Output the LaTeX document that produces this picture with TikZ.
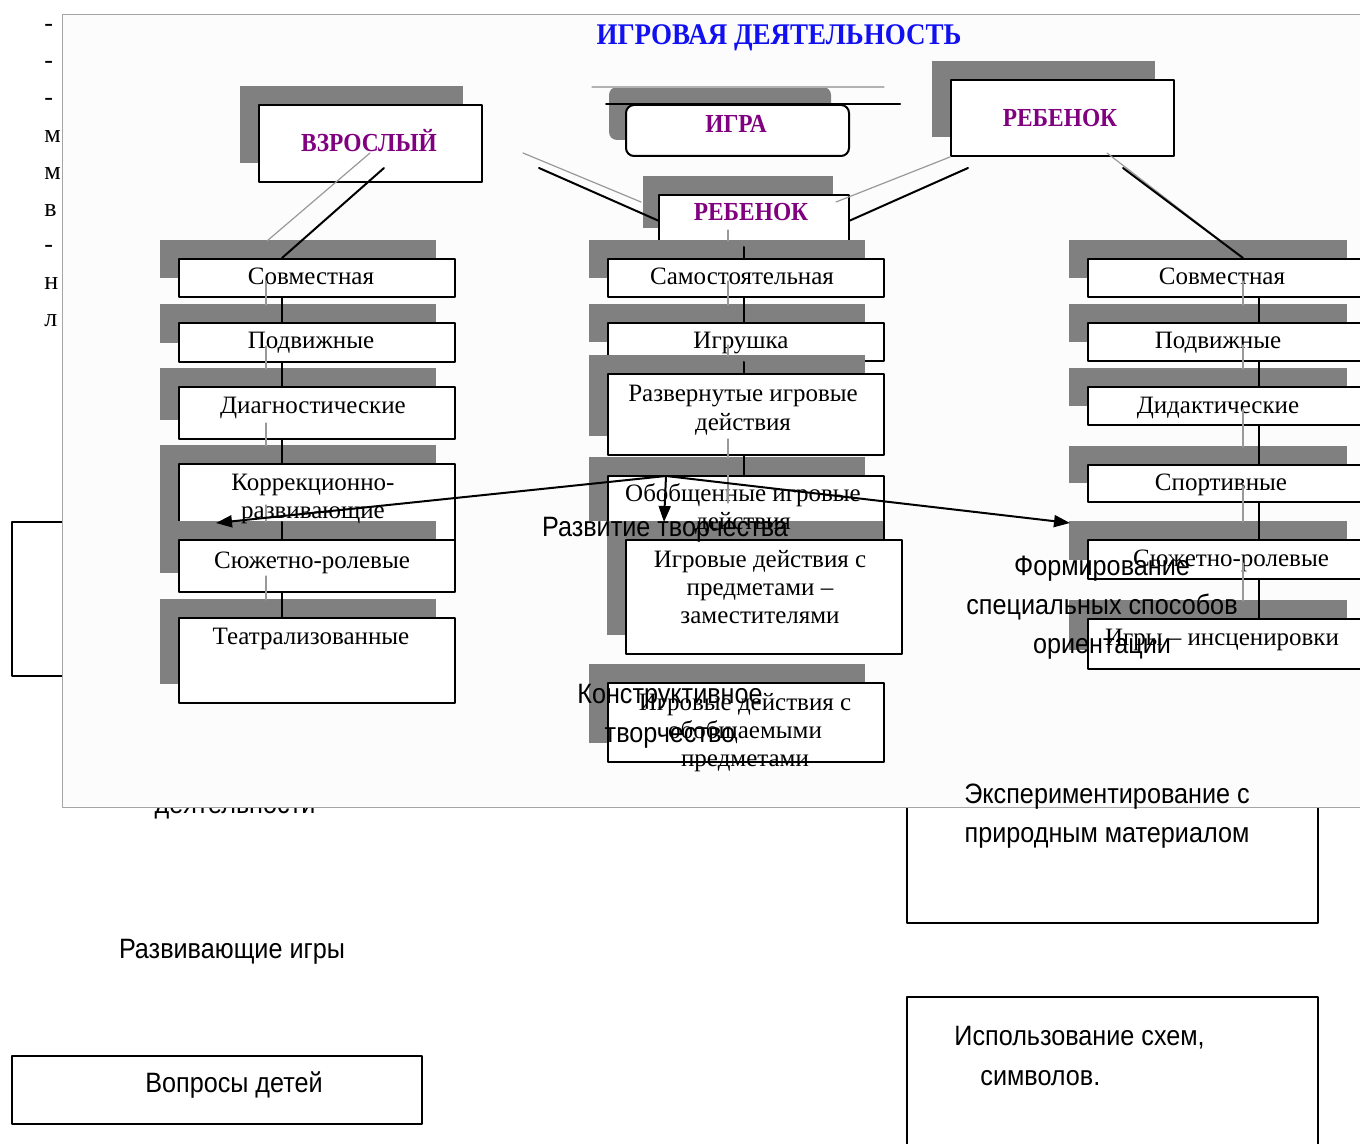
\documentclass[tikz,border=0pt]{standalone}
\usepackage{fontspec}
\setmainfont{Liberation Serif}
\newfontfamily\notefont[FakeStretch=0.9]{Liberation Sans}
\newfontfamily\headfont[FakeStretch=0.9]{Liberation Serif}
\usetikzlibrary{arrows.meta,calc,positioning}

\definecolor{shadegray}{RGB}{128,128,128}
\definecolor{headblue}{RGB}{16,16,240}
\definecolor{rolepurple}{RGB}{128,0,128}
\definecolor{panelgray}{RGB}{165,165,165}

% shaded box: name, left, top, width, height
\newcommand{\gbox}[5]{%
  \fill[shadegray] (#2-18,#3-18) rectangle ++(#4,#5);
  \node[gamebox,minimum width=#4*0.5pt,minimum height=#5*0.5pt,anchor=north west] (#1) at (#2,#3) {};
}
% black link and its grey shadow
\newcommand{\glink}[3]{%
  \draw[linkshade] ($(#1.south -| #3)+(-16,-17)$) -- ($(#2.north -| #3)+(-16,-17)$);
  \draw[linkline] (#1.south -| #3) -- (#2.north -| #3);
}

\begin{document}
\begin{tikzpicture}[x=0.5pt,y=-0.5pt,line cap=round,line join=round,
  gamebox/.style={draw=black,line width=1pt,fill=white,inner sep=0pt},
  lbl/.style={font=\fontsize{12.5}{14}\selectfont,inner sep=0pt,align=center,anchor=base},
  rolelbl/.style={font=\headfont\bfseries\fontsize{13}{15}\selectfont,text=rolepurple,inner sep=0pt,anchor=base},
  pagetext/.style={font=\fontsize{13}{15}\selectfont,inner sep=0pt},
  note/.style={font=\notefont\fontsize{14}{19.5}\selectfont,inner sep=0pt,align=center,anchor=base},
  framebox/.style={draw=black,line width=1pt},
  linkline/.style={line width=1pt},
  linkshade/.style={draw=shadegray!80,line width=0.6pt},
  pointer/.style={line width=1pt,-{Triangle[length=8pt,width=6pt]}}]
  \clip (0,0) rectangle (1360,1144);
  \fill[white] (0,0) rectangle (1360,1144);

  % page under the picture
  \foreach \yy/\ch [count=\i] in {32/-,69/-,106/-,143/м,180/м,217/в,253/-,290/н,327/л}
    \node[pagetext,anchor=base west] (page\i) at (44,\yy) {\ch};
  \draw[framebox] (12,522) rectangle (200,676);
  \node[note] (deyat) at (235,813) {деятельности};
  \draw[framebox] (907,780) rectangle (1318,923);

  % picture panel
  \draw[draw=panelgray,fill=white!99!black] (62,14) rectangle (1380,807);
  \node[font=\headfont\bfseries\fontsize{15}{17}\selectfont,text=headblue,inner sep=0pt,anchor=base]
    (title) at (779,45) {ИГРОВАЯ ДЕЯТЕЛЬНОСТЬ};

  % top row
  \gbox{adult}{258}{104}{223}{77}
  \node[rolelbl] (adult-t) at (369,152) {ВЗРОСЛЫЙ};
  \gbox{childtop}{950}{79}{223}{76}
  \node[rolelbl] (childtop-t) at (1060,127) {РЕБЕНОК};
  \fill[shadegray,rounded corners=4pt] (609,87) rectangle (831,140);
  \node[gamebox,rounded corners=4pt,minimum width=111.5pt,minimum height=25.5pt,anchor=north west] (game) at (625,104) {};
  \node[rolelbl] (game-t) at (736,133) {ИГРА};
  \draw[shadegray!60,line width=0.6pt] (592,87) -- (884,87);
  \draw[line width=1pt] (606,104) -- (900,104);
  \fill[shadegray] (643,176) rectangle (833,228);
  \node[gamebox,minimum width=95pt,minimum height=25.5pt,anchor=north west] (child) at (658,194) {};
  \node[rolelbl] (child-t) at (751,221) {РЕБЕНОК};

  % left column
  \gbox{l1}{178}{258}{276}{38}
  \gbox{l2}{178}{322}{276}{39}
  \gbox{l3}{178}{386}{276}{52}
  \gbox{l4}{178}{463}{276}{77}
  \gbox{l5}{178}{539}{276}{52}
  \gbox{l6}{178}{617}{276}{85}
  \node[lbl] (l1-t) at (311,285) {Совместная};
  \node[lbl] (l2-t) at (311,349) {Подвижные};
  \node[lbl] (l3-t) at (313,414) {Диагностические};
  \node[lbl] (l4-t) at (313,518) {Коррекционно-\\развивающие};
  \node[lbl] (l5-t) at (312,568) {Сюжетно-ролевые};
  \node[lbl] (l6-t) at (311,644) {Театрализованные};

  % middle column
  \gbox{m1}{607}{258}{276}{38}
  \gbox{m2}{607}{322}{276}{38}
  \gbox{m3}{607}{373}{276}{81}
  \gbox{m4}{607}{475}{276}{64}
  \gbox{m5}{625}{539}{276}{114}
  \gbox{m6}{607}{682}{276}{79}
  \node[lbl] (m1-t) at (742,285) {Самостоятельная};
  \node[lbl] (m2-t) at (741,349) {Игрушка};
  \node[lbl] (m3-t) at (743,430) {Развернутые игровые\\действия};
  \node[lbl] (m4-t) at (743,530) {Обобщенные игровые\\действия};
  \node[lbl] (m5-t) at (760,623) {Игровые действия с\\предметами –\\заместителями};
  \node[lbl] (m6-t) at (745,766) {Игровые действия с\\обобщаемыми\\предметами};

  % right column
  \gbox{r1}{1087}{258}{278}{38}
  \gbox{r2}{1087}{322}{278}{38}
  \gbox{r3}{1087}{386}{278}{38}
  \gbox{r4}{1087}{464}{278}{37}
  \gbox{r5}{1087}{539}{278}{39}
  \gbox{r6}{1087}{618}{278}{50}
  \node[lbl] (r1-t) at (1222,285) {Совместная};
  \node[lbl] (r2-t) at (1218,349) {Подвижные};
  \node[lbl] (r3-t) at (1218,414) {Дидактические};
  \node[lbl] (r4-t) at (1221,490) {Спортивные};
  \node[lbl] (r5-t) at (1231,566) {Сюжетно-ролевые};
  \node[lbl] (r6-t) at (1222,645) {Игры – инсценировки};

  % links
  \coordinate (lspine) at (282,0);
  \coordinate (mspine) at (744,0);
  \coordinate (rspine) at (1259,0);
  \coordinate (adult-a) at (384,168);
  \coordinate (adult-g) at (370,153);
  \coordinate (game-a) at (539,168);
  \coordinate (game-g) at (523,153);
  \coordinate (childtop-a) at (968,168);
  \coordinate (childtop-b) at (1123,168);
  \coordinate (childtop-g) at (1107,153);
  \coordinate (r1-in) at (1243,258);
  \draw[linkshade] (adult-g) -- (267,241);
  \draw[linkline] (adult-a) -- (l1.north -| lspine);
  \draw[linkshade] (game-g) -- (641,202);
  \draw[linkline] (game-a) -- (child.west);
  \draw[linkshade] (836,202) -- (childtop.south west);
  \draw[linkline] (child.east) -- (childtop-a);
  \draw[linkshade] (childtop-g) -- (1226,245);
  \draw[linkline] (childtop-b) -- (r1-in);

  \draw[linkshade] ($(child.south -| mspine)+(-16,-17)$) -- ($(m1.north -| mspine)+(-16,-17)$);
  \draw[linkline] (child.south -| mspine) -- (m1.north -| mspine);
  \glink{l1}{l2}{lspine}
  \glink{l2}{l3}{lspine}
  \glink{l3}{l4}{lspine}
  \draw[linkshade] ($(l5.north -| lspine)+(-16,-34)$) -- ($(l5.north -| lspine)+(-16,-17)$);
  \draw[linkline] ($(l5.north -| lspine)+(0,-17)$) -- (l5.north -| lspine);
  \glink{l5}{l6}{lspine}
  \glink{m1}{m2}{mspine}
  \glink{m2}{m3}{mspine}
  \glink{m3}{m4}{mspine}
  \draw[linkshade] (728,475) -- (728,503);
  \glink{r1}{r2}{rspine}
  \glink{r2}{r3}{rspine}
  \glink{r3}{r4}{rspine}
  \glink{r4}{r5}{rspine}
  \glink{r5}{r6}{rspine}

  % arrows
  \coordinate (apex) at (666,476);
  \coordinate (tipL) at (216,523);
  \coordinate (tipM) at (664,522);
  \coordinate (tipR) at (1070,523);
  \draw[pointer] (apex) -- (tipL);
  \draw[pointer] (apex) -- (tipM);
  \draw[pointer] (apex) -- (tipR);

  % notes on top
  \node[note] (razv) at (665,537) {Развитие творчества};
  \node[note] (form) at (1102,653) {Формирование\\специальных способов\\ориентации};
  \node[note] (konstr) at (670,742) {Конструктивное\\творчество};
  \node[note] (exper) at (1107,842) {Экспериментирование с\\природным материалом};
  \node[note] (razvig) at (232,958) {Развивающие игры};
  \draw[framebox] (12,1056) rectangle (422,1124);
  \node[note] (vopr) at (234,1092) {Вопросы детей};
  \draw[framebox] (907,997) rectangle (1318,1160);
  \node[note,anchor=base west] (ispol) at (954,1045) {Использование схем,};
  \node[note,anchor=base west] (simv) at (980,1085) {символов.};
\end{tikzpicture}
\end{document}
